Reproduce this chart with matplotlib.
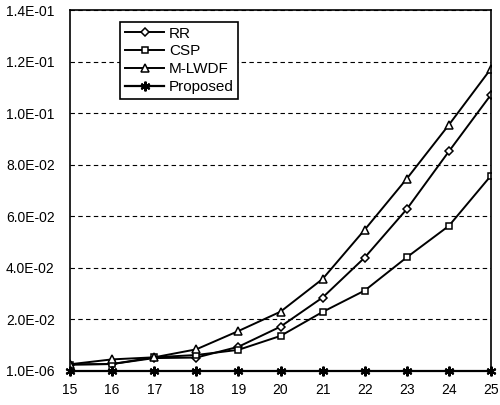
import matplotlib
matplotlib.use("Agg")
import matplotlib.pyplot as plt

# Users (x axis)
users = [15, 16, 17, 18, 19, 20, 21, 22, 23, 24, 25]

# values
rr = [0.0025, 0.0027, 0.0050, 0.0052, 0.0094, 0.0172, 0.0285, 0.0440, 0.0628, 0.0852, 0.1072]
csp = [0.0025, 0.0027, 0.0053, 0.0062, 0.0082, 0.0136, 0.0229, 0.0312, 0.0441, 0.0563, 0.0758]
mlwdf = [0.0026, 0.0045, 0.0053, 0.0084, 0.0155, 0.0230, 0.0357, 0.0548, 0.0746, 0.0955, 0.1173]
proposed = [0.000001] * 11

ytick_vals = [0.0, 0.02, 0.04, 0.06, 0.08, 0.10, 0.12, 0.14]
ytick_labels = ["1.0E-06", "2.0E-02", "4.0E-02", "6.0E-02", "8.0E-02",
                "1.0E-01", "1.2E-01", "1.4E-01"]

plt.rcParams['font.family'] = ['Liberation Sans', 'DejaVu Sans']

fig = plt.figure(figsize=(5, 4.05), dpi=100)
ax = fig.add_axes([0.14, 0.084, 0.842, 0.891])

# asterisk marker for the proposed scheme
star = (6, 2, 0)

ax.plot(users, rr, color='black', lw=1.4, marker='D', ms=4, mfc='white', mec='black', mew=1.1, label='RR')
ax.plot(users, csp, color='black', lw=1.4, marker='s', ms=5, mfc='white', mec='black', mew=1.1, label='CSP')
ax.plot(users, mlwdf, color='black', lw=1.4, marker='^', ms=5.5, mfc='white', mec='black', mew=1.1, label='M-LWDF')
ax.plot(users, proposed, color='black', lw=1.6, marker=star, ms=7, mec='black', mew=1.5, label='Proposed',
        clip_on=False)

ax.set_xlim(15, 25)
ax.set_ylim(0, 0.14)
ax.set_xticks(users)
ax.set_yticks(ytick_vals)
ax.set_yticklabels(ytick_labels)

ax.yaxis.grid(True, linestyle=(0, (4, 3)), color='black', lw=0.8)
ax.tick_params(axis='both', length=0, labelsize=10)
ax.tick_params(axis='y', pad=11)
ax.tick_params(axis='x', pad=9)
for s in ax.spines.values():
    s.set_linewidth(1.2)

leg = ax.legend(loc='upper left', bbox_to_anchor=(0.119, 0.967), fontsize=11, frameon=True,
                fancybox=False, edgecolor='black', handlelength=2.6, borderpad=0.3,
                labelspacing=0.25, handletextpad=0.3, borderaxespad=0)
leg.get_frame().set_linewidth(1.2)
leg.get_frame().set_alpha(1)

fig.savefig("out.png", dpi=100)
